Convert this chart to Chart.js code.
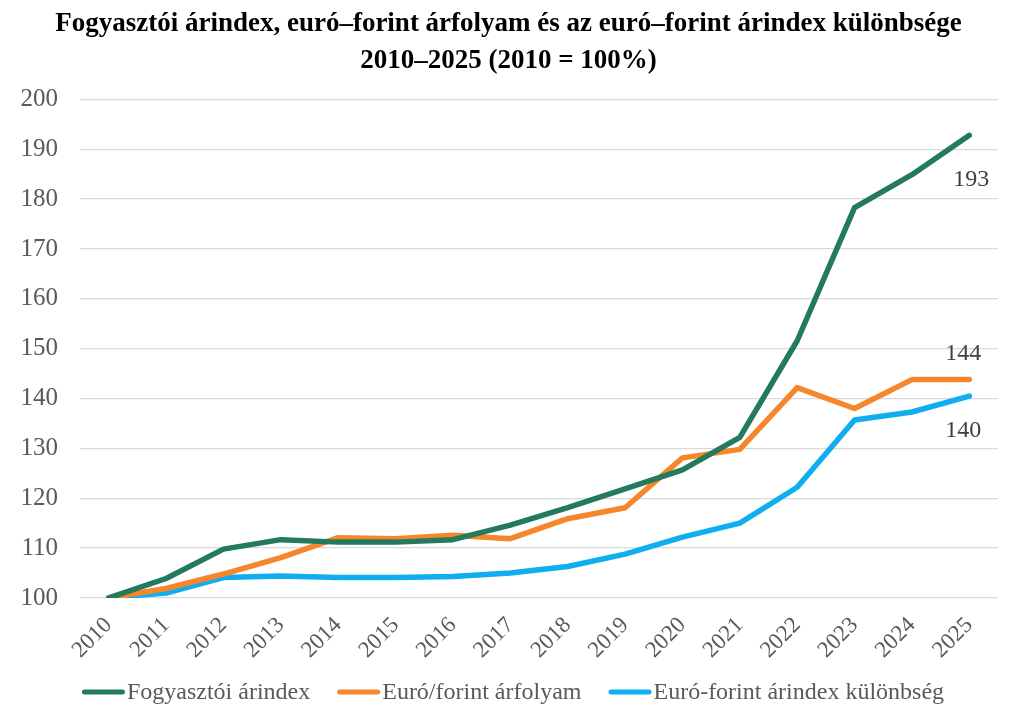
<!DOCTYPE html>
<html>
<head>
<meta charset="utf-8">
<script src="https://cdn.jsdelivr.net/npm/chart.js@4"></script>
<style>
html,body{margin:0;padding:0;background:#fff;}
#wrap{width:1024px;height:726px;}
</style>
</head>
<body>
<div id="wrap"><canvas id="c" width="1024" height="726"></canvas></div>
<script>
const years = ["2010","2011","2012","2013","2014","2015","2016","2017","2018","2019","2020","2021","2022","2023","2024","2025"];
const fogyasztoi = [100,103.9,109.8,111.7,111.2,111.2,111.7,114.6,118.1,121.9,125.7,132.2,151.6,178.3,184.9,192.8];
const euroForint = [100,101.9,104.8,108.1,112.1,111.9,112.6,111.9,115.9,118.1,128.1,129.8,142.2,138.0,143.8,143.8];
const kulonbseg = [100,101.0,104.1,104.4,104.1,104.1,104.3,105.0,106.3,108.8,112.2,115.0,122.2,135.7,137.3,140.5];
const seriesNames = ["Fogyasztói árindex","Euró/forint árfolyam","Euró-forint árindex különbség"];
const endLabels = ["193","144","140"];
const yTicks = [100,110,120,130,140,150,160,170,180,190,200];
const titleLines = ["Fogyasztói árindex, euró–forint árfolyam és az euró–forint árindex különbsége","2010–2025 (2010 = 100%)"];

const colors = ["#237a5c","#f5862b","#0eaeef"];
const labelOffsets = [[2,44],[-6,-26],[-6,35]];
const FONT = '"Liberation Serif", "Times New Roman", serif';

const endLabelPlugin = {
  id:'endLabels',
  afterDatasetsDraw(chart){
    const ctx = chart.ctx;
    ctx.save();
    ctx.font = '24px ' + FONT;
    ctx.fillStyle = '#404040';
    ctx.textAlign = 'center';
    ctx.textBaseline = 'middle';
    chart.data.datasets.forEach((ds,i)=>{
      const meta = chart.getDatasetMeta(i);
      const pt = meta.data[meta.data.length-1];
      ctx.fillText(endLabels[i], pt.x + labelOffsets[i][0], pt.y + labelOffsets[i][1]);
    });
    ctx.restore();
  }
};

// legend drawn with tight spacing like the original
const customLegend = {
  id:'customLegend',
  afterDraw(chart){
    const ctx = chart.ctx;
    ctx.save();
    ctx.font = '24px ' + FONT;
    ctx.textBaseline = 'middle';
    const boxW = 43, boxH = 5, gap = 2, spacing = 27;
    const widths = chart.data.datasets.map(ds=>ctx.measureText(ds.label).width);
    const total = widths.reduce((a,b)=>a+b,0) + widths.length*(boxW+gap) + (widths.length-1)*spacing;
    let x = (chart.width - total)/2 + 1;
    const y = 692;
    chart.data.datasets.forEach((ds,i)=>{
      ctx.strokeStyle = ds.borderColor;
      ctx.lineWidth = boxH;
      ctx.lineCap = 'round';
      ctx.beginPath();
      ctx.moveTo(x+2.5, y);
      ctx.lineTo(x+boxW-2.5, y);
      ctx.stroke();
      x += boxW + gap;
      ctx.fillStyle = '#595959';
      ctx.textAlign = 'left';
      ctx.fillText(ds.label, x, y+1);
      x += widths[i] + spacing;
    });
    ctx.restore();
  }
};

new Chart(document.getElementById('c'), {
  type:'line',
  data:{
    labels: years,
    datasets:[fogyasztoi,euroForint,kulonbseg].map((d,i)=>({
      label: seriesNames[i],
      data: d,
      borderColor: colors[i],
      backgroundColor: colors[i],
      borderWidth: 5.5,
      pointRadius: 0,
      tension: 0,
      borderCapStyle:'round',
      borderJoinStyle:'round'
    }))
  },
  options:{
    responsive:false,
    animation:false,
    layout:{padding:{left:19,right:26,top:0,bottom:56}},
    plugins:{
      title:{
        display:true,
        text:titleLines,
        color:'#000',
        font:{family:FONT,size:27,weight:'bold',lineHeight:1.36},
        padding:{top:6,bottom:20}
      },
      legend:{display:false},
      tooltip:{enabled:false}
    },
    scales:{
      x:{
        offset:true,
        grid:{display:false},
        border:{display:false},
        afterFit(axis){axis.paddingLeft = 0; axis.paddingRight = 0;},
        ticks:{
          color:'#595959',
          font:{family:FONT,size:23},
          maxRotation:45,minRotation:45,
          padding:6
        }
      },
      y:{
        min:100,max:200,
        afterBuildTicks(axis){axis.ticks = yTicks.map(v=>({value:v}));},
        afterFit(axis){axis.width = 61;},
        grid:{color:'#d9d9d9',lineWidth:1.3,drawTicks:false},
        border:{display:false},
        ticks:{
          color:'#595959',
          font:{family:FONT,size:25},
          padding:22
        }
      }
    }
  },
  plugins:[endLabelPlugin, customLegend]
});
</script>
</body>
</html>
